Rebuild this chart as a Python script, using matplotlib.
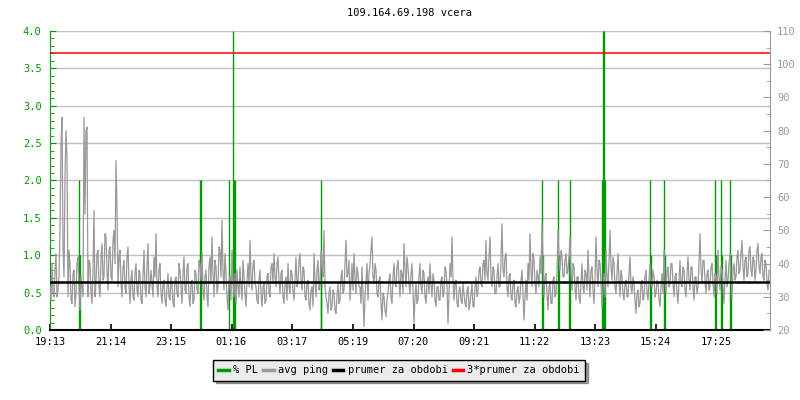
import numpy as np
import matplotlib
matplotlib.use('Agg')
import matplotlib.pyplot as plt
from matplotlib.lines import Line2D
from matplotlib.ticker import MultipleLocator

plt.rcParams['font.family'] = ['DejaVu Sans Mono']

# avg ping [ms], one sample every 2 minutes from 19:13
ping = [
    33, 29, 40, 31, 30, 38, 43, 30, 32, 36, 50, 76, 84, 45, 36, 66, 80, 72, 30, 44,
    40, 29, 28, 37, 38, 27, 31, 40, 42, 33, 26, 36, 33, 30, 84, 55, 80, 81, 30, 41,
    40, 31, 28, 38, 56, 30, 34, 43, 44, 33, 30, 42, 46, 35, 36, 49, 48, 38, 32, 44,
    45, 36, 35, 47, 50, 40, 71, 56, 33, 42, 44, 34, 30, 39, 41, 33, 31, 42, 45, 34,
    28, 35, 38, 30, 29, 37, 40, 32, 30, 38, 37, 29, 28, 36, 44, 33, 30, 39, 46, 31,
    33, 38,
    34, 30, 42, 36, 49, 33, 30, 38, 40, 31, 28, 34, 35, 29, 27, 33, 37, 30, 29, 36,
    34, 28, 27, 35, 36, 31, 30, 40, 38, 33, 28, 37, 42, 32, 31, 39, 40, 30, 27, 34,
    35, 28, 29, 38, 37, 32, 31, 41, 40, 35, 43, 33, 29, 36, 38, 30, 27, 39, 42, 34,
    48, 37, 30, 41, 39, 31, 33, 45, 44, 36, 53, 38, 32, 43, 37, 30, 26, 35, 36, 29,
    44, 34, 30, 37, 28, 38, 33, 30, 39, 33, 29, 41, 36, 31, 27, 35, 40, 33, 47, 36,
    32, 40, 41, 34,
    33, 29, 28, 35, 38, 31, 27, 33, 34, 28, 29, 36, 37, 31, 30, 39, 40, 34, 43, 36,
    33, 40, 42, 35, 31, 37, 38, 30, 28, 34, 36, 29, 40, 33, 31, 38, 37, 32, 29, 35,
    42, 33, 34, 41, 43, 35, 32, 39, 38, 30, 29, 34, 35, 28, 26, 32, 33, 27, 43, 35,
    30, 38, 41, 32, 34, 44, 39, 36, 50, 33, 30, 28, 25, 31, 33, 26, 27, 32, 31, 26,
    25, 30, 34, 28, 29, 36, 38, 31, 32, 40, 47, 36, 37, 41, 29, 34, 40, 32, 43, 36,
    31, 39, 37, 33,
    33, 28, 39, 31, 21, 30, 35, 40, 29, 37, 40, 44, 48, 36, 34, 40, 38, 31, 30, 35,
    36, 28, 23, 31, 30, 26, 24, 29, 31, 35, 37, 30, 28, 36, 40, 34, 33, 39, 41, 35,
    30, 38, 37, 31, 46, 39, 33, 42, 39, 34, 31, 37, 40, 32, 22, 30, 34, 28, 29, 36,
    40, 33, 31, 38, 37, 30, 28, 34, 36, 31, 40, 34, 30, 37, 35, 29, 27, 33, 33, 29,
    29, 35, 36, 30, 31, 39, 38, 33, 22, 31, 40, 36, 48, 35, 29, 34, 35, 28, 27, 32,
    33, 29, 28, 34,
    31, 28, 27, 32, 33, 26, 28, 31, 34, 27, 27, 33, 36, 30, 32, 38, 39, 34, 33, 40,
    41, 35, 47, 37, 35, 42, 48, 36, 33, 39, 38, 31, 31, 36, 40, 33, 33, 41, 52, 38,
    36, 42, 43, 33, 30, 36, 37, 30, 29, 34, 35, 28, 27, 32, 33, 28, 30, 35, 38, 31,
    23, 30, 35, 29, 40, 35, 49, 38, 33, 43, 41, 34, 31, 38, 36, 33, 42, 37, 52, 40,
    30, 36, 37, 31, 26, 33, 34, 28, 28, 35, 36, 30, 31, 37, 50, 41, 38, 44, 42, 36,
    36, 41, 43, 37, 38, 42,
    48, 37, 32, 40, 39, 33, 29, 36, 36, 30, 28, 34, 40, 33, 31, 38, 37, 32, 44, 36,
    30, 38, 39, 32, 28, 35, 48, 38, 33, 41, 40, 34, 27, 33, 37, 30, 44, 36, 33, 41,
    50, 39, 35, 42, 40, 33, 31, 37, 43, 35, 30, 38, 36, 31, 29, 34, 35, 30, 30, 37,
    42, 33, 31, 36, 34, 29, 25, 31, 32, 27, 28, 34, 35, 29, 30, 36, 38, 31, 29, 35,
    40, 34, 33, 38, 36, 30, 31, 35, 34, 29, 27, 33, 37, 31, 44, 35, 31, 38, 39, 33,
    34, 40,
    40, 34, 30, 36, 37, 31, 28, 35, 41, 34, 33, 39, 38, 32, 30, 37, 42, 35, 32, 39,
    39, 33, 29, 36, 36, 31, 33, 40, 49, 38, 34, 41, 41, 35, 31, 37, 38, 32, 33, 39,
    40, 34, 30, 37, 36, 31, 44, 36, 32, 39, 38, 33, 28, 35, 41, 33, 35, 40, 43, 36,
    30, 38, 40, 35, 36, 42, 44, 37, 38, 43, 47, 39, 35, 41, 42, 36, 37, 44, 45, 38,
    36, 42, 41, 35, 38, 44, 46, 39, 37, 42, 43, 36, 35, 41, 40, 34, 32, 38,
]
ping_step = 2  # minutes between samples

# packet loss spikes: minute offset and % PL
pl_minutes = [58, 60, 299, 301, 358, 365, 367, 369, 541, 542, 984, 986, 1016, 1018,
              1038, 1039, 1104, 1106, 1108, 1110, 1199, 1201, 1228, 1230, 1330, 1332,
              1342, 1343, 1360, 1362]
pl_values = [2.0, 1.0, 2.0, 2.0, 2.0, 4.0, 2.0, 2.0, 1.0, 2.0, 2.0, 1.0, 2.0, 1.0,
             1.0, 2.0, 2.0, 4.0, 4.0, 2.0, 2.0, 1.0, 2.0, 1.0, 2.0, 1.0,
             2.0, 1.0, 2.0, 1.0]

avg_ms = 34.45  # prumer za obdobi

tick_minutes = [0, 121, 242, 363, 484, 606, 727, 848, 969, 1090, 1211, 1332]
tick_labels = ['19:13', '21:14', '23:15', '01:16', '03:17', '05:19',
               '07:20', '09:21', '11:22', '13:23', '15:24', '17:25']

GREEN = '#009900'
GRAY = '#999999'

fig = plt.figure(figsize=(8, 4), dpi=100)
ax = fig.add_axes([0.0625, 0.175, 0.9, 0.7475])
ax2 = ax.twinx()

# packet loss on the left axis
ax.vlines(pl_minutes, 0, pl_values, color=GREEN, linewidth=1.0)
ax.set_xlim(0, 1440)
ax.set_ylim(0, 4.0)
ax.set_yticks(np.arange(0, 4.01, 0.5))
ax.set_yticklabels([f'{v:.1f}' for v in np.arange(0, 4.01, 0.5)])
ax.yaxis.set_minor_locator(MultipleLocator(0.1))
ax.grid(axis='y', color='#c0c0c0', linewidth=1.0)
ax.set_axisbelow(True)
ax.set_xticks(tick_minutes)
ax.set_xticklabels(tick_labels)
ax.tick_params(axis='y', which='major', direction='in', length=4, color=GREEN,
               labelcolor=GREEN, labelsize=7.5, pad=6)
ax.tick_params(axis='y', which='minor', direction='in', length=3, color=GREEN)
ax.tick_params(axis='x', direction='in', length=4, labelsize=7.5, pad=5, width=1.2)
ax.spines['left'].set_color(GREEN)
ax.spines['bottom'].set_linewidth(1.5)
ax.spines['top'].set_visible(False)
ax.spines['right'].set_visible(False)

# ping on the right axis
x_ping = np.arange(len(ping)) * ping_step
ax2.plot(x_ping, ping, color=GRAY, linewidth=0.9)
ax2.axhline(avg_ms, color='black', linewidth=1.8)
ax2.axhline(3 * avg_ms, color='#ff0000', linewidth=1.1)
ax2.set_ylim(20, 110)
ax2.yaxis.set_major_locator(MultipleLocator(10))
ax2.yaxis.set_minor_locator(MultipleLocator(5))
ax2.tick_params(axis='y', which='major', direction='in', length=5, color=GRAY,
                labelcolor=GRAY, labelsize=7.5, pad=5)
ax2.tick_params(axis='y', which='minor', direction='in', length=3, color=GRAY)
ax2.spines['right'].set_color(GRAY)
for s in ['left', 'top', 'bottom']:
    ax2.spines[s].set_visible(False)

fig.text(0.5125, 0.967, '109.164.69.198 vcera', ha='center', va='center', fontsize=7.5)

handles = [Line2D([], [], color=GREEN, linewidth=2.5),
           Line2D([], [], color=GRAY, linewidth=2.5),
           Line2D([], [], color='black', linewidth=2.5),
           Line2D([], [], color='#ff0000', linewidth=2.5)]
labels = ['% PL', 'avg ping', 'prumer za obdobi', '3*prumer za obdobi']
leg = fig.legend(handles, labels, loc='center', bbox_to_anchor=(0.499, 0.074),
                 ncol=4, fontsize=7.5, frameon=True, fancybox=False, shadow=True,
                 handlelength=1.0, handletextpad=0.4, columnspacing=0.5,
                 borderpad=0.5, borderaxespad=0)
leg.get_frame().set_facecolor('#ebebeb')
leg.get_frame().set_edgecolor('black')
leg.get_frame().set_alpha(1)

fig.savefig('out.png', dpi=100)
